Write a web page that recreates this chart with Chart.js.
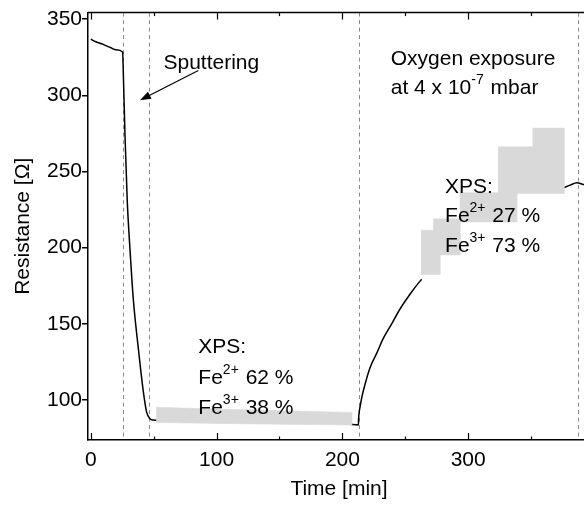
<!DOCTYPE html>
<html>
<head>
<meta charset="utf-8">
<title>Resistance vs time</title>
<script src="https://cdn.jsdelivr.net/npm/chart.js@4.4.1/dist/chart.umd.min.js"></script>
<style>
  html, body { margin: 0; padding: 0; background: #fff; overflow: hidden; }
  #wrap { width: 592px; height: 506px; }
</style>
</head>
<body>
<div id="wrap"><canvas id="chart" width="592" height="506"></canvas></div>
<script>
// resistance trace, time in min, resistance in Ohm (null = hidden under the XPS bands)
const traceTime = [0, 4, 8, 12, 16, 20, 25.3, 25.8, 27.2, 29, 31.2, 33.8, 37.8, 41.7, 44.4, 47.1, 50, 53, 54,
  206, 212.7, 212.9, 213.5, 214.0, 215.3, 218, 221.9, 227.3, 232.5, 239.2, 245.8, 253.7, 261.7, 263, 264,
  375.5, 381, 386.2, 391.5, 397];
const traceOhm = [336.8, 335.2, 334.0, 332.6, 331.2, 329.9, 328.4, 316.8, 273.7, 230.7, 198.5, 166.2, 133.9, 106, 92, 87.7, 86.8, 86.6, null,
  84, 83.6, 88, 93, 95.2, 101.2, 110.3, 121, 130.7, 140.4, 150, 159.7, 169.4, 178, 179.2, null,
  239.2, 241, 242.6, 241.5, 240.5];

// XPS measurement windows (grey bands)
const bandLowTime = [52, 100, 150, 207.4];
const bandLowTop = [95.2, 94.0, 93.0, 91.8];
const bandLowBottom = [85.2, 84.6, 84.0, 83.5];
// second window is a staircase: value holds until the next time step
const bandHighTime = [262.5, 272.3, 277.6, 293.5, 323.9, 338.6, 351.3, 376.2];
const bandHighTop = [211.4, 218.9, 218.9, 236.1, 266.2, 266.2, 278.5, 278.5];
const bandHighBottom = [182.4, 182.4, 195.2, 216.8, 216.8, 235.5, 235.5, 235.5];

// phase boundaries
const markerTimes = [25.3, 46.5, 213, 387];

const xTicks = [0, 100, 200, 300];
const xMinorTicks = [50, 150, 250, 350];
const yTicks = [100, 150, 200, 250, 300, 350];

const FONT = '"Liberation Sans", Arial, Helvetica, sans-serif';
const GREY = '#d9d9d9';

const pts = (xs, ys) => xs.map((t, i) => ({ x: t, y: ys[i] }));
const stairs = (xs, ys) => {
  const out = [];
  xs.forEach((t, i) => {
    out.push({ x: t, y: ys[i] });
    if (i + 1 < xs.length) out.push({ x: xs[i + 1], y: ys[i] });
  });
  return out;
};
// closed outline: upper edge left→right, lower edge back right→left
const outline = (upper, lower) => upper.concat(lower.slice().reverse());

// text labels, anchored in data units (time, ohm) at the baseline
const notes = [
  { t: 57.8, r: 317.6, parts: [['Sputtering']] },
  { t: 238.4, r: 320.0, parts: [['Oxygen exposure']] },
  { t: 238.4, r: 300.6, parts: [['at 4 x 10'], ['-7', 1], [' mbar']] },
  { t: 281.6, r: 235.7, parts: [['XPS:']] },
  { t: 281.6, r: 216.8, parts: [['Fe'], ['2+', 1], [' 27 %']] },
  { t: 281.6, r: 197.4, parts: [['Fe'], ['3+', 1], [' 73 %']] },
  { t: 85.5, r: 130.7, parts: [['XPS:']] },
  { t: 85.5, r: 110.7, parts: [['Fe'], ['2+', 1], [' 62 %']] },
  { t: 85.5, r: 91.0, parts: [['Fe'], ['3+', 1], [' 38 %']] }
];
const arrow = { from: [85.5, 316.3], to: [39.1, 296.8] };

function rich(ctx, x, y, parts) {
  parts.forEach(([s, sup]) => {
    ctx.font = (sup ? '14px ' : '21px ') + FONT;
    ctx.fillText(s, x, sup ? y - 10 : y);
    x += ctx.measureText(s).width + (sup ? 1 : 0);
  });
}

function seg(ctx, x1, y1, x2, y2) {
  ctx.beginPath(); ctx.moveTo(x1, y1); ctx.lineTo(x2, y2); ctx.stroke();
}

const extras = {
  id: 'extras',
  beforeDatasetsDraw(chart) {
    const { ctx, chartArea: a, scales: { x } } = chart;
    ctx.save();
    ctx.strokeStyle = '#8a8a8a';
    ctx.lineWidth = 1;
    ctx.setLineDash([4, 3.5]);
    markerTimes.forEach(t => {
      const px = Math.round(x.getPixelForValue(t)) + 0.5;
      seg(ctx, px, a.top, px, a.bottom);
    });
    ctx.restore();
  },
  afterDraw(chart) {
    const { ctx, chartArea: a, scales: { x, y } } = chart;
    ctx.save();
    ctx.strokeStyle = '#000';
    ctx.lineWidth = 1.5;
    // closing frame on top / right
    seg(ctx, a.left, a.top, a.right, a.top);
    seg(ctx, a.right, a.top, a.right, a.bottom);
    // inward time ticks, bottom and top
    ctx.lineWidth = 1.2;
    const tick = (v, len) => {
      const px = Math.round(x.getPixelForValue(v)) + 0.5;
      seg(ctx, px, a.bottom, px, a.bottom - len);
      seg(ctx, px, a.top, px, a.top + len);
    };
    xTicks.forEach(v => tick(v, 7));
    xMinorTicks.forEach(v => tick(v, 3.5));

    // annotation text
    ctx.fillStyle = '#000';
    ctx.textBaseline = 'alphabetic';
    ctx.textAlign = 'left';
    notes.forEach(n => rich(ctx, x.getPixelForValue(n.t), y.getPixelForValue(n.r), n.parts));

    // arrow pointing at the sputtering drop
    const x1 = x.getPixelForValue(arrow.from[0]), y1 = y.getPixelForValue(arrow.from[1]);
    const x2 = x.getPixelForValue(arrow.to[0]), y2 = y.getPixelForValue(arrow.to[1]);
    const ang = Math.atan2(y2 - y1, x2 - x1);
    const hl = 11, hw = 4;
    ctx.lineWidth = 1.2;
    seg(ctx, x1, y1, x2 - Math.cos(ang) * hl * 0.8, y2 - Math.sin(ang) * hl * 0.8);
    ctx.beginPath();
    ctx.moveTo(x2, y2);
    ctx.lineTo(x2 - Math.cos(ang) * hl - Math.sin(ang) * hw, y2 - Math.sin(ang) * hl + Math.cos(ang) * hw);
    ctx.lineTo(x2 - Math.cos(ang) * hl + Math.sin(ang) * hw, y2 - Math.sin(ang) * hl - Math.cos(ang) * hw);
    ctx.closePath();
    ctx.fill();
    ctx.restore();
  }
};

const band = data => ({
  data, fill: 'shape',
  borderColor: GREY, backgroundColor: GREY,
  borderWidth: 0.5, pointRadius: 0, tension: 0
});

new Chart(document.getElementById('chart'), {
  type: 'line',
  data: {
    datasets: [
      band(outline(stairs(bandHighTime, bandHighTop), stairs(bandHighTime, bandHighBottom))),
      band(outline(pts(bandLowTime, bandLowTop), pts(bandLowTime, bandLowBottom))),
      {
        data: pts(traceTime, traceOhm),
        borderColor: '#000', borderWidth: 1.5,
        pointRadius: 0, fill: false, spanGaps: false,
        cubicInterpolationMode: 'monotone'
      }
    ]
  },
  options: {
    responsive: false,
    animation: false,
    layout: { padding: { top: 5, right: 2, left: 0, bottom: 0 } },
    plugins: { legend: { display: false }, tooltip: { enabled: false } },
    scales: {
      x: {
        type: 'linear', min: -2.2, max: 396.8,
        afterBuildTicks: s => { s.ticks = xTicks.map(v => ({ value: v })); },
        afterFit: s => { s.height = 66; },
        grid: { display: false },
        border: { display: true, color: '#000', width: 1.5 },
        ticks: { color: '#000', font: { family: FONT, size: 21 }, padding: 0, maxRotation: 0 },
        title: { display: true, text: 'Time [min]', color: '#000', font: { family: FONT, size: 21 }, padding: { top: 0, bottom: 4 } }
      },
      y: {
        min: 73.7, max: 354.3,
        afterBuildTicks: s => { s.ticks = yTicks.map(v => ({ value: v })); },
        afterFit: s => { s.width = 88; },
        grid: { drawOnChartArea: false, drawTicks: true, tickLength: 6, color: '#000', lineWidth: 1.5 },
        border: { display: true, color: '#000', width: 1.5 },
        ticks: { color: '#000', font: { family: FONT, size: 21 }, padding: 0 },
        title: { display: true, text: 'Resistance [Ω]', color: '#000', font: { family: FONT, size: 21 }, padding: { top: 11, bottom: 0 } }
      }
    }
  },
  plugins: [extras]
});
</script>
</body>
</html>
